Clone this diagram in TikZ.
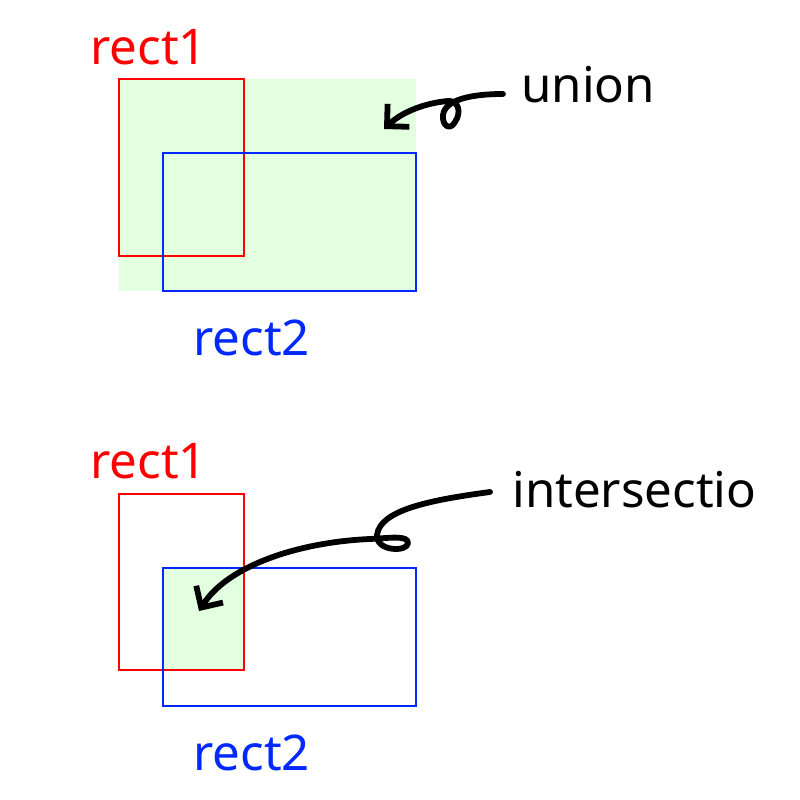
\documentclass[tikz,border=0pt]{standalone}
\usepackage{fontspec}
\setmainfont{Noto Sans}
\usepackage{xcolor}
\usepackage{tikz}
\usetikzlibrary{arrows.meta, positioning}

\definecolor{rectred}{RGB}{255,0,0}
\definecolor{rectblue}{RGB}{0,40,255}
\definecolor{areagreen}{RGB}{226,255,224}

\begin{document}
\begin{tikzpicture}[
  x=0.02cm, y=-0.02cm,
  redbox/.style={draw=rectred, line width=1.2pt},
  bluebox/.style={draw=rectblue, line width=1.2pt},
  area/.style={fill=areagreen},
  lbl/.style={anchor=base west, inner sep=0pt, font=\fontsize{28}{32}\selectfont},
  thickarrow/.style={-{Straight Barb[length=9pt, width=18pt]}, line width=3.3pt, line cap=round, line join=round},
]
\useasboundingbox (0,0) rectangle (800,800);

% Union
\fill[area] (119,79) rectangle (416,291);
\draw[redbox] (119,79) rectangle (244,256);
\draw[bluebox] (163,153) rectangle (416,291);

\node[lbl, text=rectred] (rectoneU) at (90,65) {rect1};
\node[lbl, text=rectblue] (recttwoU) at (193,355) {rect2};
\node[lbl] (union) at (521,103) {union};

\coordinate (unionStart) at (503,94);
\coordinate (unionTip) at (384,129);
\draw[thickarrow] (unionStart) .. controls (470,94) and (445,100) .. (443,115)
  .. controls (442,126) and (450,131) .. (455,122)
  .. controls (462,112) and (458,100) .. (448,101)
  .. controls (425,103) and (402,112) .. (unionTip);

% Intersection
\fill[area] (163,568) rectangle (244,670);
\draw[redbox] (119,494) rectangle (244,670);
\draw[bluebox] (163,568) rectangle (416,706);

\node[lbl, text=rectred] (rectoneI) at (90,478) {rect1};
\node[lbl, text=rectblue] (recttwoI) at (193,770) {rect2};
\node[lbl] (inter) at (512,507) {intersectio};

\coordinate (interStart) at (490,492);
\coordinate (interTip) at (199,611);
\draw[thickarrow] (interStart) .. controls (430,500) and (380,510) .. (377,535)
  .. controls (376,552) and (408,552) .. (408,543)
  .. controls (408,535) and (390,538) .. (370,539)
  .. controls (300,542) and (228,565) .. (interTip);

\end{tikzpicture}
\end{document}
